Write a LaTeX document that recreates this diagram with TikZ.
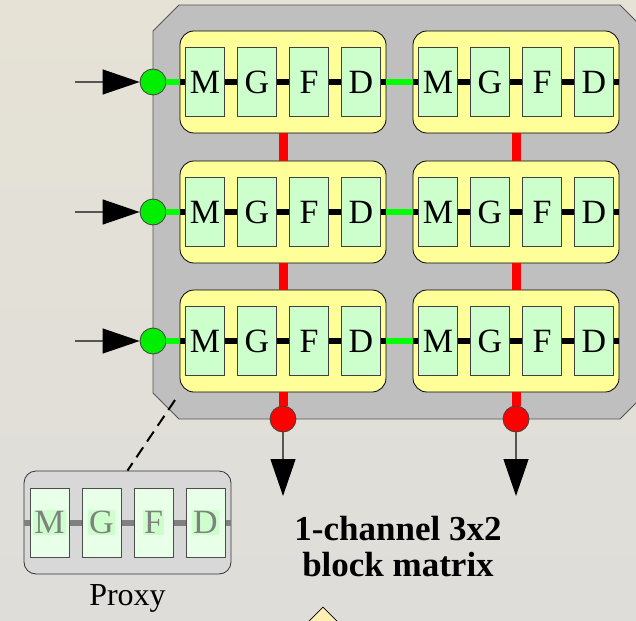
\documentclass[tikz,border=0pt]{standalone}
\usepackage{fontspec}
\setmainfont{Liberation Serif}
\usetikzlibrary{arrows.meta, positioning, shapes.geometric}
\definecolor{cbgtop}{HTML}{E6E2D6}
\definecolor{cbgbot}{HTML}{DEDDD9}
\definecolor{cframe}{HTML}{BFBFBF}
\definecolor{cyellow}{HTML}{FFFF99}
\definecolor{cmint}{HTML}{CCFFCC}
\definecolor{cpale}{HTML}{E8FFE8}
\definecolor{cgreen}{HTML}{00EE00}
\definecolor{cred}{HTML}{FF0000}
\definecolor{cgrey}{HTML}{555555}
\definecolor{cproxy}{HTML}{D8D8D8}
\definecolor{cnext}{HTML}{FFEFB5}
\tikzset{
  every picture/.style={line width=0.8pt},
  block/.style={draw=black, fill=cyellow, rounded corners=14pt, minimum width=206pt, minimum height=102pt, inner sep=0pt},
  cell/.style={draw=black!75, fill=cmint, minimum width=39pt, minimum height=69pt, inner sep=0pt, font=\fontsize{34}{34}\selectfont},
  port/.style={circle, draw=black!75, fill=#1, minimum size=26pt, inner sep=0pt},
  bus/.style={draw=black, line width=6pt},
  rowlink/.style={draw=green, line width=6pt},
  collink/.style={draw=cred, line width=9pt},
  arrow/.style={-{Triangle[length=37pt, width=25pt, color=black]}, draw=cgrey, line width=1.2pt},
  proxybox/.style={draw=black!80, fill=cproxy, rounded corners=12pt, minimum width=207pt, minimum height=103pt, inner sep=0pt},
  pcell/.style={draw=black!70, fill=cpale, minimum width=39pt, minimum height=69pt, inner sep=0pt},
  pletter/.style={fill=cmint, text=black!50, inner sep=1.5pt, font=\fontsize{34}{34}\selectfont},
  title/.style={font=\fontsize{35}{36}\selectfont\bfseries, align=center},
}
\begin{document}
\begin{tikzpicture}[x=1pt, y=-1pt]
  \useasboundingbox (0,0) rectangle (636,620);
  \clip (0,0) rectangle (636,620);
  \shade[top color=cbgtop, bottom color=cbgbot] (0,0) rectangle (636,620);
  % chamfered frame of the matrix
  \filldraw[fill=cframe, draw=cgrey] (153,31) -- (179,5) -- (620,5) -- (646,31) -- (646,393)
    -- (620,419) -- (179,419) -- (153,393) -- cycle;
  % blocks of the matrix
  \foreach \r/\y in {1/82, 2/212, 3/341} {
    \foreach \c/\x in {1/283, 2/516} {
      \node[block] (blk-\r-\c) at (\x,\y) {};
      \draw[bus] (blk-\r-\c.west) -- (blk-\r-\c.east);
      \foreach \i/\t in {1/M, 2/G, 3/F, 4/D} {
        \node[cell] (cell-\r-\c-\i) at (\x+52*\i-130,\y) {\t};
      }
    }
    \node[port=cgreen] (in-\r) at (153,\y) {};
    \coordinate (src-\r) at (75,\y);
    \draw[rowlink] (in-\r) -- (blk-\r-1.west);
    \draw[rowlink] (blk-\r-1.east) -- (blk-\r-2.west);
    \draw[arrow] (src-\r) -- (in-\r);
  }
  \foreach \c/\x in {1/283, 2/516} {
    \draw[collink] (blk-1-\c.south) -- (blk-2-\c.north);
    \draw[collink] (blk-2-\c.south) -- (blk-3-\c.north);
    \node[port=cred] (out-\c) at (\x,419) {};
    \coordinate (sink-\c) at (\x,496);
    \draw[collink] (blk-3-\c.south) -- (out-\c);
    \draw[arrow] (out-\c) -- (sink-\c);
  }
  % proxy of one block
  \node[proxybox] (proxy) at (127.5,522.5) {};
  \draw[draw=black!50, line width=6pt] (proxy.west) -- (proxy.east);
  \foreach \i/\t in {1/M, 2/G, 3/F, 4/D} {
    \node[pcell] (pcell-\i) at (127.5+52*\i-130,522.5) {};
    \node[pletter] at (pcell-\i) {\t};
  }
  \coordinate (tap) at (175,400);
  \draw[dashed, dash pattern=on 12pt off 7pt, line width=2pt] (tap) -- (proxy.north);
  \node[font=\fontsize{32}{32}\selectfont] (proxy-label) at (127.5,598) {Proxy};
  \node[title] (caption) at (398,547) {1-channel 3x2\\block matrix};
  \node[diamond, draw=black, fill=cnext, minimum size=60pt, inner sep=0pt] (next) at (323,637) {};
\end{tikzpicture}
\end{document}
